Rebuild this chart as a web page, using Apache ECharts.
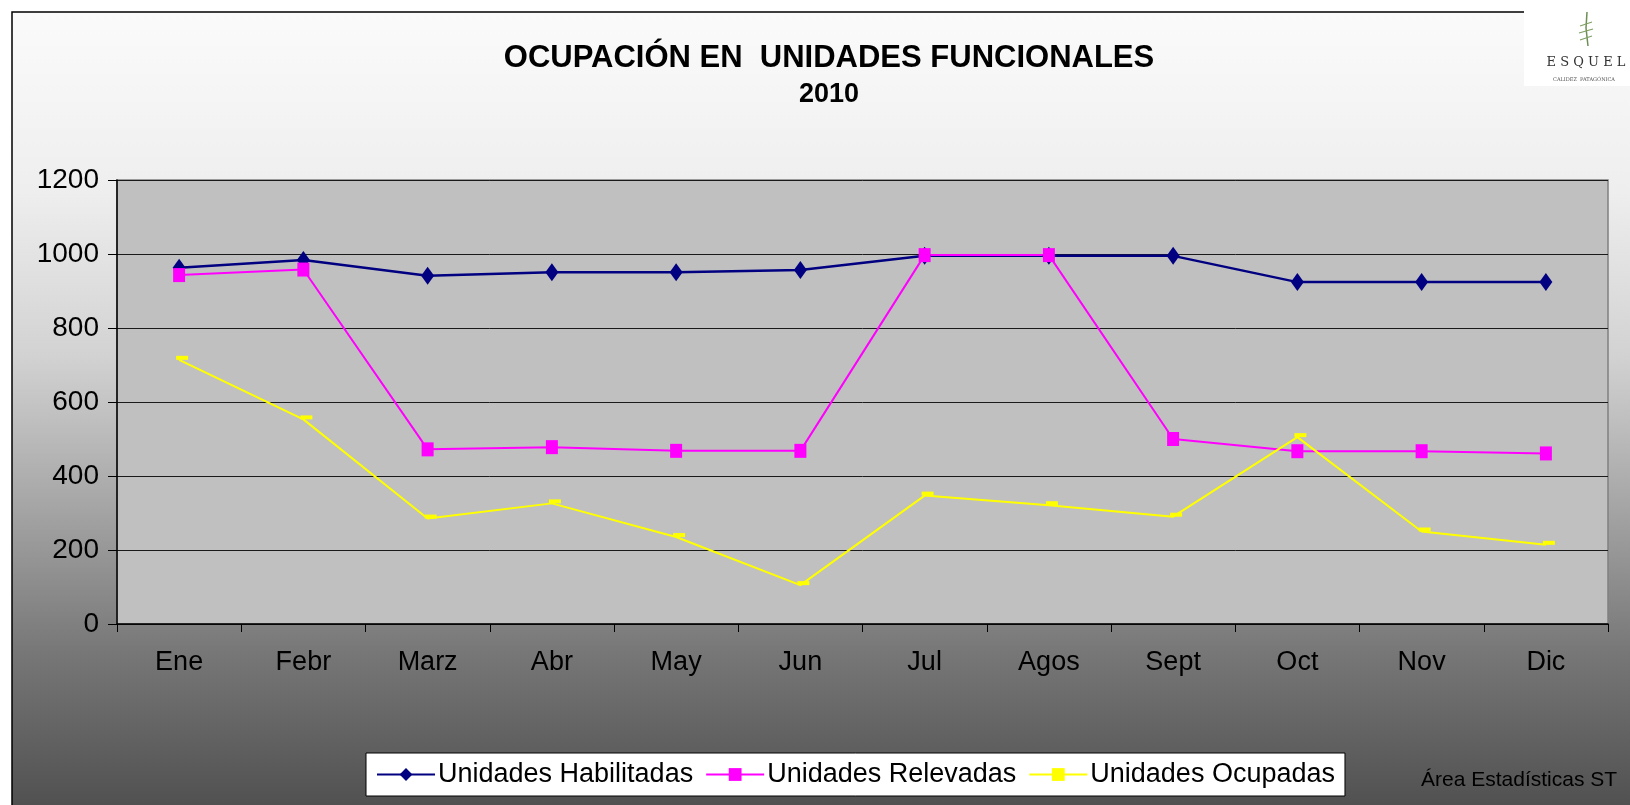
<!DOCTYPE html>
<html>
<head>
<meta charset="utf-8">
<script src="https://cdn.jsdelivr.net/npm/echarts@6/dist/echarts.min.js"></script>
<style>
  html, body { margin: 0; padding: 0; background: #fff; }
  #chart { width: 1630px; height: 805px; }
</style>
</head>
<body>
<div id="chart"></div>
<script>
// months
var meses = ['Ene', 'Febr', 'Marz', 'Abr', 'May', 'Jun', 'Jul', 'Agos', 'Sept', 'Oct', 'Nov', 'Dic'];
// series values
var habilitadas = [963, 984, 941, 951, 951, 957, 995, 995, 995, 924, 924, 924];
var relevadas = [943, 958, 472, 478, 468, 468, 997, 997, 500, 467, 467, 461];
var ocupadas = [714, 553, 285, 326, 235, 105, 347, 321, 290, 505, 250, 214];
var yTicks = [0, 200, 400, 600, 800, 1000, 1200];

var myChart = echarts.init(document.getElementById('chart'));
var font = 'Liberation Sans, Arial, sans-serif';

var option = {
    animation: false,
    textStyle: { fontFamily: font },
    graphic: [
        {
            type: 'rect', z: -10, silent: true,
            shape: { x: 12, y: 12, width: 1640, height: 820 },
            style: {
                stroke: '#000', lineWidth: 1.5,
                fill: new echarts.graphic.LinearGradient(0, 0, 0, 1, [
                    { offset: 0, color: '#fbfbfb' },
                    { offset: 0.22, color: '#eeeeee' },
                    { offset: 0.42, color: '#d2d2d2' },
                    { offset: 0.6, color: '#a6a6a6' },
                    { offset: 0.78, color: '#777777' },
                    { offset: 1, color: '#4a4a4a' }
                ])
            }
        },
        // logo box
        { type: 'rect', z: -5, silent: true, shape: { x: 1524, y: 0, width: 106, height: 86 }, style: { fill: '#fff' } },
        { type: 'polyline', z: 5, silent: true, shape: { points: [[1587, 12], [1586, 28], [1588, 46]] }, style: { stroke: '#6d8f55', lineWidth: 1.5, fill: null } },
        { type: 'polyline', z: 5, silent: true, shape: { points: [[1580, 26], [1592, 22]] }, style: { stroke: '#7fa062', lineWidth: 1.2, fill: null } },
        { type: 'polyline', z: 5, silent: true, shape: { points: [[1579, 33], [1593, 29]] }, style: { stroke: '#7fa062', lineWidth: 1.2, fill: null } },
        { type: 'polyline', z: 5, silent: true, shape: { points: [[1580, 40], [1592, 36]] }, style: { stroke: '#7fa062', lineWidth: 1.2, fill: null } },
        { type: 'text', z: 5, silent: true, style: { x: 1586, y: 63, text: 'E S Q U E L', fill: '#333', font: '13px "DejaVu Serif", serif', textAlign: 'center', textVerticalAlign: 'middle' } },
        { type: 'text', z: 5, silent: true, style: { x: 1584, y: 80, text: 'CALIDEZ  PATAGÓNICA', fill: '#555', font: '5px "DejaVu Serif", serif', textAlign: 'center', textVerticalAlign: 'middle' } },
        { type: 'text', z: 5, silent: true, style: { x: 1421, y: 780, text: 'Área Estadísticas ST', fill: '#000', font: '21px "Liberation Sans Narrow", "Liberation Sans", Arial, sans-serif', textVerticalAlign: 'middle' } }
    ],
    title: {
        text: 'OCUPACIÓN EN  UNIDADES FUNCIONALES',
        subtext: '2010',
        left: 824, top: 38, textAlign: 'center',
        itemGap: 7,
        textStyle: { fontFamily: font, fontSize: 31, fontWeight: 'bold', color: '#000' },
        subtextStyle: { fontFamily: font, fontSize: 27, fontWeight: 'bold', color: '#000' }
    },
    legend: {
        left: 366, top: 753,
        backgroundColor: '#fff', borderColor: '#000', borderWidth: 1,
        padding: [8, 10],
        itemWidth: 58, itemHeight: 16, itemGap: 12,
        textStyle: { fontFamily: font, fontSize: 27, color: '#000', padding: [0, 0, 0, -2] },
        data: ['Unidades Habilitadas', 'Unidades Relevadas', 'Unidades Ocupadas']
    },
    grid: {
        left: 117, right: 22, top: 180, bottom: 181,
        show: true, backgroundColor: '#c0c0c0', borderColor: '#808080', borderWidth: 1.5
    },
    xAxis: {
        type: 'category', data: meses, boundaryGap: true,
        axisLine: { lineStyle: { color: '#000', width: 1.5 } },
        axisTick: { show: true, length: 8, lineStyle: { color: '#000' } },
        axisLabel: { color: '#000', fontSize: 27, margin: 25, fontFamily: font }
    },
    yAxis: {
        type: 'value', min: yTicks[0], max: yTicks[yTicks.length - 1], interval: 200,
        axisLine: { show: true, lineStyle: { color: '#000', width: 1.5 } },
        axisTick: { show: true, length: 9, lineStyle: { color: '#000' } },
        axisLabel: {
            color: '#000', fontSize: 28, margin: 18, fontFamily: font,
            formatter: function (v) { return String(v); }
        },
        splitLine: { lineStyle: { color: '#1a1a1a', width: 1 } }
    },
    series: [
        {
            name: 'Unidades Habilitadas', type: 'line', data: habilitadas,
            symbol: 'diamond', symbolSize: [13, 18],
            lineStyle: { color: '#000080', width: 2.5 },
            itemStyle: { color: '#000080' }
        },
        {
            name: 'Unidades Relevadas', type: 'line', data: relevadas,
            symbol: 'rect', symbolSize: [12, 14],
            lineStyle: { color: '#ff00ff', width: 2 },
            itemStyle: { color: '#ff00ff' }
        },
        {
            name: 'Unidades Ocupadas', type: 'line', data: ocupadas,
            symbol: 'rect', symbolSize: [12, 4], symbolOffset: [3, -2],
            lineStyle: { color: '#ffff00', width: 2 },
            itemStyle: { color: '#ffff00' }
        }
    ]
};

myChart.setOption(option);
window.addEventListener('resize', function () {
    myChart.resize();
});
</script>
</body>
</html>
